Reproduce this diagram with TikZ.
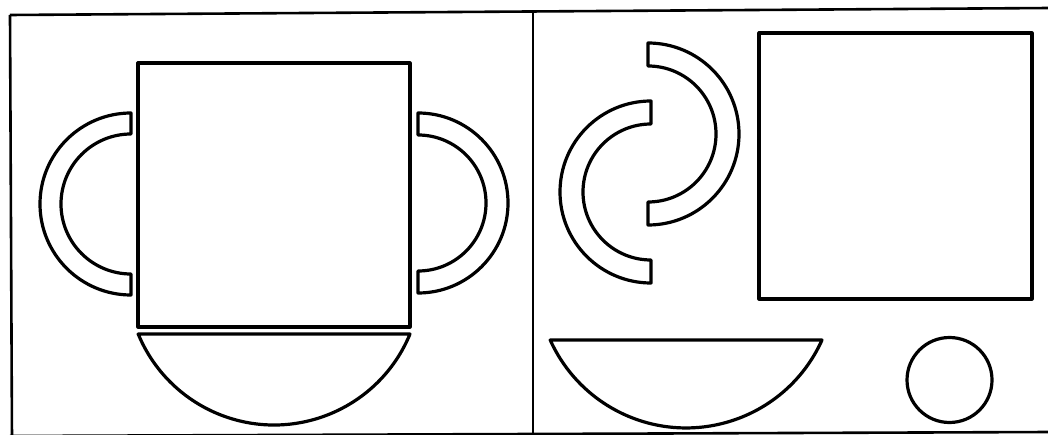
\documentclass[tikz,border=0pt]{standalone}
\begin{document}
\begin{tikzpicture}[x=1pt,y=-1pt,
  piece/.style={draw=black,line width=3.2pt,line join=round},
  frameline/.style={draw=black,line width=2.6pt}]
\useasboundingbox (0,0) rectangle (1048,435);
\begin{scope}
\clip (0,0) rectangle (1048,435);
% frame
\draw[frameline] (10,15) -- (1050,8);
\draw[frameline] (10,15) -- (12,440);
\draw[frameline] (10,436) -- (1050,432);
\draw[frameline] (533,12) -- (533,440);
\end{scope}
% left panel
\draw[piece] (138,63) rectangle (410,327);
% left handle (C shape)
\draw[piece] (131,204) ++(0,-91) arc[start angle=270,end angle=90,radius=91]
  -- ++(0,-21) arc[start angle=90,end angle=270,radius=70] -- cycle;
% right handle
\draw[piece] (418,203) ++(0,-90) arc[start angle=270,end angle=450,radius=90]
  -- ++(0,-22) arc[start angle=90,end angle=-90,radius=68] -- cycle;
% bowl
\draw[piece] (138,334) -- (410,334) arc[start angle=22.4,end angle=157.6,radius=147] -- cycle;
% right panel
\draw[piece] (759,33) rectangle (1032,299);
\draw[piece] (949.5,380) circle[radius=42.5];
\draw[piece] (550,340) -- (822,340) arc[start angle=24.2,end angle=155.8,radius=149] -- cycle;
% upper handle (reversed C)
\draw[piece] (648,134) ++(0,-91) arc[start angle=270,end angle=450,radius=91]
  -- ++(0,-23) arc[start angle=90,end angle=-90,radius=68] -- cycle;
% lower handle (C)
\draw[piece] (651,192) ++(0,-91) arc[start angle=270,end angle=90,radius=91]
  -- ++(0,-23) arc[start angle=90,end angle=270,radius=68] -- cycle;
\end{tikzpicture}
\end{document}
